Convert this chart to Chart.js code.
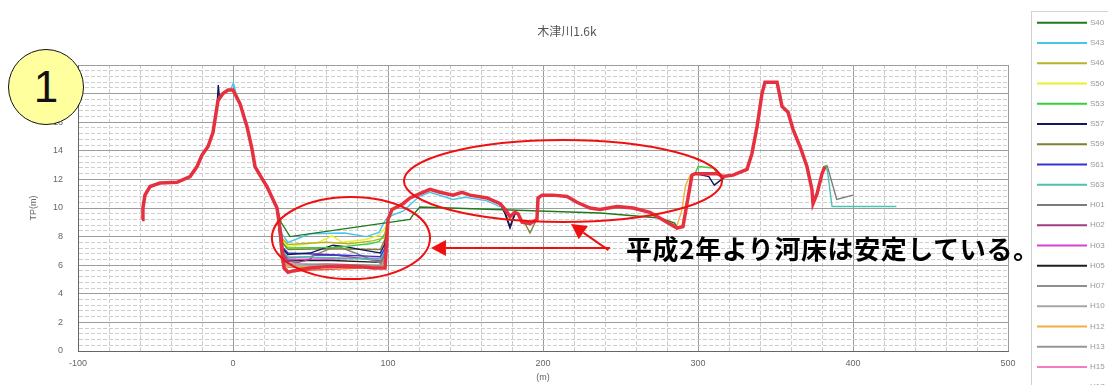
<!DOCTYPE html>
<html>
<head>
<meta charset="utf-8">
<script src="https://cdn.jsdelivr.net/npm/chart.js@4.4.1/dist/chart.umd.min.js"></script>
<style>
  html, body { margin: 0; padding: 0; background: #fff; overflow: hidden; }
  #wrap { position: relative; width: 1108px; height: 385px; }
  #c { position: absolute; left: 0; top: 0; }
  .badge {
    position: absolute; left: 8px; top: 49px; width: 74px; height: 74px;
    border: 1.6px solid #111; border-radius: 50%; background: #ffff9e;
    font: 44px "Liberation Sans", Arial, sans-serif; color: #111;
    display: flex; align-items: center; justify-content: center; line-height: 1;
  }
  .note {
    position: absolute; left: 626px; top: 233px; white-space: nowrap;
    font: bold 26px "Noto Sans CJK JP", sans-serif; color: #000; line-height: 30px;
    letter-spacing: 0.6px;
  }
</style>
</head>
<body>
<div id="wrap">
  <canvas id="c" width="1108" height="385"></canvas>
  <div class="badge">1</div>
  <div class="note">平成2年より河床は安定している。</div>
</div>
<script>
// Cross-section survey of 木津川 at 1.6k: distance (m) vs elevation TP (m)

const surveys = ['S40', 'S43', 'S46', 'S50', 'S53', 'S57', 'S59', 'S61', 'S63', 'H01',
                 'H02', 'H03', 'H05', 'H07', 'H10', 'H12', 'H13', 'H15', 'H17', 'H19'];

const lineColors = ['#1f7a1f', '#45c6ea', '#b4b424', '#eeee2a', '#36d036', '#161660',
                    '#808032', '#3434d2', '#4cc2b0', '#7c7c7c', '#a03c80', '#d444d4',
                    '#1e1e1e', '#8e8e8e', '#a6a6a6', '#f0b040', '#969696', '#f27cc2',
                    '#f06030', '#e6303f'];

// left bank (shared by every survey)
const leftBank = [[-58.7, 9.2], [-58.1, 10.0], [-56.8, 10.9], [-53.5, 11.5], [-47.1, 11.75],
  [-36.1, 11.8], [-27.7, 12.2], [-23.2, 12.9], [-20.0, 13.7], [-16.1, 14.3], [-12.9, 15.3],
  [-9.7, 17.5], [-6.5, 18.0], [-3.2, 18.25], [0, 18.25], [4.5, 17.3], [9.0, 15.7],
  [12.3, 14.1], [14.2, 12.9], [17.4, 12.3], [21.9, 11.5], [25.8, 10.6], [28.4, 10.0]];

// main channel between the low-water pocket and the right bank
const channel = [[100, 9.2], [102.6, 9.9], [109.7, 10.3], [114.2, 10.7], [120.6, 11.0],
  [127.1, 11.3], [133.5, 11.1], [141.9, 10.9], [147.7, 11.1], [152.9, 10.9], [163.9, 10.7],
  [172.3, 10.3], [175.5, 9.9], [178.7, 9.4], [181.9, 9.7], [183.9, 9.6], [186.5, 9.0],
  [191.6, 8.9], [196.1, 9.2], [196.8, 10.7], [199.4, 10.9], [206.5, 10.9], [215.5, 10.8],
  [221.9, 10.4], [230.3, 10.0], [236.8, 9.9], [247.7, 10.1], [258.1, 10.0], [269.0, 9.7],
  [280.0, 9.0], [286.5, 8.6]];

// right bank
const rightBank = [[290.3, 8.7], [292.9, 10.3], [296.1, 12.3], [298.1, 12.4], [312.3, 12.4],
  [316.1, 12.2], [322.6, 12.3], [331.6, 12.7], [334.8, 13.8], [338.1, 15.7], [341.3, 18.0],
  [343.2, 18.8], [351.0, 18.8], [354.2, 17.1], [358.1, 16.7], [361.3, 15.5], [365.8, 14.3],
  [370.3, 12.9], [373.5, 11.3], [374.2, 10.3], [376.8, 11.0], [380.0, 12.4], [381.9, 12.9]];

// low-water pocket of each survey (x 31 - 100 m)
const pocketS40 = [[31.0, 9.0], [36.8, 8.0], [114.2, 9.2], [116.0, 9.5], [120.6, 10.07],
  [236.8, 9.65], [275.5, 9.3], [285.0, 8.95]];
const pocketS43 = [[31.5, 8.2], [35.5, 7.6], [49.7, 8.2], [72.0, 8.25], [86.0, 8.0], [94.2, 8.3],
  [98.5, 9.2], [103.0, 9.5], [110.0, 9.8], [120.0, 10.8], [127.0, 11.1], [141.9, 10.6],
  [150.0, 10.75], [164.0, 10.5], [172.0, 10.1]];
const pocketS46 = [[31.5, 7.9], [35.5, 7.45], [60.0, 7.6], [75.0, 7.5], [90.0, 7.7], [97.5, 7.9]];
const pocketS50 = [[31.5, 7.8], [35.5, 7.3], [55.0, 7.6], [63.9, 8.05], [70.6, 7.6], [86.0, 7.8],
  [94.2, 8.1], [98.0, 8.6]];
const pocketS53 = [[31.5, 7.7], [35.5, 7.2], [67.0, 7.25], [88.0, 7.5], [94.2, 7.65], [98.0, 8.2]];
const pocketS57 = [[31.5, 7.2], [35.5, 6.75], [49.7, 6.85], [64.5, 7.4], [72.5, 7.3], [84.2, 7.05],
  [95.0, 6.85], [98.0, 7.5]];
const pocketS59 = [[31.5, 7.6], [35.5, 7.1], [60.0, 7.15], [95.0, 7.1], [98.0, 7.8]];
const pocketS61 = [[31.5, 7.3], [35.5, 6.85], [60.0, 6.75], [95.0, 6.6], [98.0, 7.2]];
const pocketS63 = [[31.5, 7.1], [35.5, 6.6], [70.0, 6.5], [95.0, 6.4], [98.0, 7.0]];
const pocketH01 = [[31.5, 7.0], [35.5, 6.5], [50.0, 6.6], [67.0, 7.35], [80.0, 6.8], [95.0, 6.15],
  [98.0, 6.8]];
const pocketH02 = [[31.5, 6.8], [35.5, 6.25], [42.0, 6.2], [49.7, 6.4], [52.0, 6.7], [67.0, 6.7],
  [95.0, 6.3], [98.0, 6.9]];
const pocketH03 = [[31.5, 6.9], [35.5, 6.4], [70.0, 6.45], [95.0, 6.5], [98.0, 7.0]];
const pocketH05 = [[31.5, 6.8], [35.5, 6.3], [60.0, 6.35], [95.0, 6.2], [98.0, 6.8]];
const pocketH07 = [[31.5, 6.6], [35.5, 6.1], [95.0, 6.0], [98.0, 6.6]];
const pocketH10 = [[31.5, 6.5], [35.5, 6.0], [95.0, 5.95], [98.0, 6.5]];
const pocketH12 = [[31.5, 6.4], [35.5, 5.9], [95.0, 5.9], [98.0, 6.4]];
const pocketH13 = [[31.5, 6.3], [35.5, 5.85], [95.0, 5.85], [98.0, 6.3]];
const pocketH15 = [[31.5, 6.4], [35.5, 5.9], [60.0, 6.1], [95.0, 5.95], [98.0, 6.4]];
const pocketH17 = [[31.5, 6.2], [35.5, 5.6], [95.0, 5.85], [98.0, 6.3]];
const pocketH19 = [[31.0, 8.0], [32.9, 5.8], [35.5, 5.5], [38.7, 5.6], [49.7, 5.8], [60.6, 5.9],
  [72.3, 5.95], [81.9, 5.9], [90.3, 5.8], [98.1, 5.8]];

// local departures of individual surveys from the shared banks / channel
const crestS43 = [[-1.5, 18.3], [0.3, 18.75], [2.0, 18.0]];
const spikeS57 = [[-10.2, 17.3], [-9.5, 18.6], [-8.8, 17.8]];
const dipS57 = [[175.5, 9.6], [178.7, 8.6], [181.9, 9.6]];
const benchS57 = [[307.0, 12.2], [310.5, 11.6], [314.0, 11.9], [318.0, 12.2]];
const dipS59 = [[188.5, 8.9], [191.6, 8.25], [194.5, 8.9]];
const dipH05 = [[175.5, 9.7], [178.7, 8.7], [181.9, 9.6]];
const benchS53 = [[300.0, 12.9], [310.0, 12.8]];
const tailS53 = [[383.5, 13.0]];
const tailS63 = [[383.5, 12.6], [386.5, 10.1], [428.0, 10.1]];
const tailH01 = [[383.5, 12.9], [389.5, 10.6], [400.0, 10.9]];
const wallH12 = [[286.5, 8.8], [289.5, 9.8], [292.0, 11.6], [295.0, 12.3]];

const pockets = [pocketS40, pocketS43, pocketS46, pocketS50, pocketS53, pocketS57, pocketS59,
  pocketS61, pocketS63, pocketH01, pocketH02, pocketH03, pocketH05, pocketH07, pocketH10,
  pocketH12, pocketH13, pocketH15, pocketH17, pocketH19];
const departures = {
  S43: [crestS43], S53: [benchS53, tailS53], S57: [spikeS57, dipS57, benchS57],
  S59: [dipS59], S63: [tailS63], H01: [tailH01], H05: [dipH05], H12: [wallH12]
};

const yTickValues = [0, 2, 4, 6, 8, 10, 12, 14, 16, 18, 20];
const xTickValues = [-100, 0, 100, 200, 300, 400, 500];

// assemble one survey: shared profile with that survey's own segments replacing it
function buildProfile(name, pocket) {
  let pts = leftBank.concat(channel, rightBank);
  [pocket].concat(departures[name] || []).forEach(seg => {
    const lo = seg[0][0], hi = seg[seg.length - 1][0];
    pts = pts.filter(p => p[0] < lo || p[0] > hi).concat(seg);
  });
  pts.sort((a, b) => a[0] - b[0]);
  return pts.map(p => ({ x: p[0], y: p[1] }));
}

const last = surveys.length - 1;
const datasets = surveys.map((name, i) => ({
  label: name,
  data: buildProfile(name, pockets[i]),
  borderColor: lineColors[i],
  borderWidth: i === last ? 3.5 : 1.4,
  order: i === last ? 0 : (i === 0 ? 1 : 2),
  pointRadius: 0,
  tension: 0,
  fill: false,
  xAxisID: 'x',
  yAxisID: 'y'
}));

const isMajorY = v => yTickValues.some(t => Math.abs(t - v) < 1e-6);
const isMajorX = v => xTickValues.some(t => Math.abs(t - v) < 1e-6);

Chart.defaults.font.family = '"Liberation Sans", Arial, sans-serif';

// red call-outs placed in data units
const callouts = {
  ellipses: [
    { cx: 76.1, cy: 7.9, rx: 51, ry: 2.87 },
    { cx: 212.9, cy: 11.89, rx: 102.6, ry: 2.87 }
  ],
  arrows: [
    { from: [243.2, 7.2], to: [127.7, 7.2] },
    { from: [242.2, 7.05], to: [218.1, 8.88] }
  ]
};

const calloutPlugin = {
  id: 'callouts',
  afterDatasetsDraw(chart) {
    const { ctx, scales: { x, y } } = chart;
    ctx.save();
    ctx.strokeStyle = '#f01010';
    ctx.fillStyle = '#f01010';
    ctx.lineWidth = 2;
    callouts.ellipses.forEach(e => {
      const cx = x.getPixelForValue(e.cx), cy = y.getPixelForValue(e.cy);
      const rx = Math.abs(x.getPixelForValue(e.cx + e.rx) - cx);
      const ry = Math.abs(y.getPixelForValue(e.cy + e.ry) - cy);
      ctx.beginPath();
      ctx.ellipse(cx, cy, rx, ry, 0, 0, Math.PI * 2);
      ctx.stroke();
    });
    callouts.arrows.forEach(a => {
      const x1 = x.getPixelForValue(a.from[0]), y1 = y.getPixelForValue(a.from[1]);
      const x2 = x.getPixelForValue(a.to[0]), y2 = y.getPixelForValue(a.to[1]);
      const ang = Math.atan2(y2 - y1, x2 - x1);
      const len = 15, half = 8;
      const bx = x2 - len * Math.cos(ang), by = y2 - len * Math.sin(ang);
      ctx.beginPath();
      ctx.moveTo(x1, y1);
      ctx.lineTo(bx, by);
      ctx.stroke();
      ctx.beginPath();
      ctx.moveTo(x2, y2);
      ctx.lineTo(bx + half * Math.sin(ang), by - half * Math.cos(ang));
      ctx.lineTo(bx - half * Math.sin(ang), by + half * Math.cos(ang));
      ctx.closePath();
      ctx.fill();
    });
    ctx.restore();
  }
};

const headerPlugin = {
  id: 'header',
  afterDraw(chart) {
    const { ctx } = chart;
    ctx.save();
    ctx.font = '12px "Noto Sans CJK JP", sans-serif';
    ctx.fillStyle = '#555';
    ctx.textAlign = 'center';
    ctx.textBaseline = 'middle';
    ctx.fillText('木津川1.6k', 567, 31);
    ctx.restore();
  }
};

const sideLegendPlugin = {
  id: 'sideLegend',
  afterDraw(chart) {
    const { ctx } = chart;
    ctx.save();
    ctx.strokeStyle = '#d2d2d2';
    ctx.lineWidth = 1;
    ctx.strokeRect(1031.5, 11.5, 120, 400);
    ctx.font = '8px "Liberation Sans", Arial, sans-serif';
    ctx.textBaseline = 'middle';
    chart.data.datasets.forEach((ds, i) => {
      const yy = 22.7 + i * 20.25;
      ctx.strokeStyle = ds.borderColor;
      ctx.lineWidth = 2;
      ctx.beginPath();
      ctx.moveTo(1037, yy);
      ctx.lineTo(1087, yy);
      ctx.stroke();
      ctx.fillStyle = '#999';
      ctx.fillText(ds.label, 1090, yy);
    });
    ctx.restore();
  }
};

new Chart(document.getElementById('c'), {
  type: 'line',
  data: { datasets },
  options: {
    responsive: false,
    animation: false,
    layout: { padding: { top: 65, right: 100, left: 0, bottom: 0 } },
    plugins: {
      legend: { display: false },
      title: { display: false },
      tooltip: { enabled: false }
    },
    scales: {
      x: {
        type: 'linear', min: -100, max: 500,
        afterFit: s => { s.height = 34; },
        ticks: {
          stepSize: 20, autoSkip: false, maxRotation: 0, padding: 7,
          color: '#666', font: { size: 9 },
          callback: v => (isMajorX(v) ? v : '')
        },
        grid: {
          drawTicks: false,
          color: c => (c.tick && isMajorX(c.tick.value) ? '#9c9c9c' : '#cdcdcd'),
          lineWidth: 1
        },
        border: {
          color: '#666', width: 1,
          dash: c => (c.tick && !isMajorX(c.tick.value) ? [4, 2] : [])
        },
        title: {
          display: true, text: '(m)', color: '#666', font: { size: 9 },
          padding: { top: 0, bottom: 2 }
        }
      },
      y: {
        type: 'linear', min: 0, max: 20,
        afterFit: s => { s.width = 78; },
        ticks: {
          stepSize: 0.4, autoSkip: false, padding: 15,
          color: '#666', font: { size: 9 },
          callback: v => (isMajorY(v) ? Math.round(v) : '')
        },
        grid: {
          drawTicks: false,
          color: c => (c.tick && isMajorY(c.tick.value) ? '#9c9c9c' : '#cdcdcd'),
          lineWidth: 1
        },
        border: {
          color: '#666', width: 1,
          dash: c => (c.tick && !isMajorY(c.tick.value) ? [4, 2] : [])
        },
        title: {
          display: true, text: 'TP(m)', color: '#666', font: { size: 9 },
          padding: { top: 28, bottom: 0 }
        }
      }
    }
  },
  plugins: [calloutPlugin, headerPlugin, sideLegendPlugin]
});
</script>
</body>
</html>
